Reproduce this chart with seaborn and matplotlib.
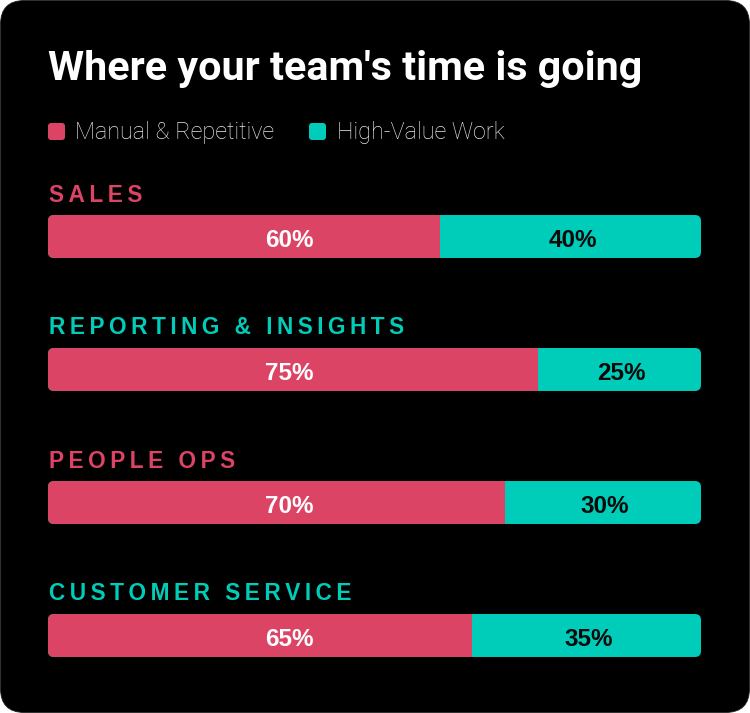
import numpy as np
import pandas as pd
import matplotlib
matplotlib.use("Agg")
import matplotlib.pyplot as plt
import seaborn as sns
from matplotlib.patches import FancyBboxPatch
from matplotlib.transforms import IdentityTransform
from matplotlib import font_manager as fm

# ---------------- data ----------------
categories = ["SALES", "REPORTING & INSIGHTS", "PEOPLE OPS", "CUSTOMER SERVICE"]
manual = [60, 75, 70, 65]
high_value = [40, 25, 30, 35]
series_names = ["Manual & Repetitive", "High-Value Work"]
title = "Where your team's time is going"

# ---------------- style ----------------
PINK = "#DC4466"
TEAL = "#00CDB9"
label_colors = [PINK, TEAL, PINK, TEAL]
W, H, DPI = 750, 713, 100
MANUAL_LABEL_X = 37.0   # manual-segment labels sit at a fixed x in the reference

sns.set_theme(style="white")
plt.rcParams["font.family"] = ["Liberation Sans", "DejaVu Sans"]


def _w(v):
    if isinstance(v, str):
        return fm.weight_dict.get(v, 400)
    return v


def has_font(name, min_weight=None, max_weight=None):
    for f in fm.fontManager.ttflist:
        if f.name != name:
            continue
        w = _w(f.weight)
        if min_weight is not None and w < min_weight:
            continue
        if max_weight is not None and w > max_weight:
            continue
        return True
    return False


title_family = "Roboto" if has_font("Roboto", min_weight=700) else "Liberation Sans"
if has_font("Roboto", max_weight=300):
    legend_family = "Roboto"
elif has_font("Lato", max_weight=300):
    legend_family = "Lato"
else:
    legend_family = "Liberation Sans"

fig = plt.figure(figsize=(W / DPI, H / DPI), dpi=DPI)
fig.patch.set_facecolor("white")

# black rounded card
card = FancyBboxPatch((0.5, 0.5), W - 1, H - 1,
                      boxstyle="round,pad=0,rounding_size=24",
                      transform=IdentityTransform(), fc="black", ec="#222222",
                      lw=0.6, zorder=0)
fig.add_artist(card)

# ---------------- bars ----------------
ax = fig.add_axes([48 / W, 11 / H, 653 / W, 532 / H])
ax.set_facecolor("none")

df = pd.DataFrame({"category": categories, "manual": manual, "high": high_value})
df["total"] = df["manual"] + df["high"]

BAR_W = 0.323
sns.barplot(data=df, x="total", y="category", color=TEAL, saturation=1,
            width=BAR_W, errorbar=None, linewidth=0, orient="h", ax=ax)
sns.barplot(data=df, x="manual", y="category", color=PINK, saturation=1,
            width=BAR_W, errorbar=None, linewidth=0, orient="h", ax=ax)

ax.set_xlim(0, df["total"].max())
ax.set_ylim(len(categories) - 0.5, -0.5)
ax.axis("off")

# rounded ends via clip paths (display coords)
clips = []
for i, tot in enumerate(df["total"]):
    (xa, ya) = ax.transData.transform((0, i - BAR_W / 2))
    (xb, yb) = ax.transData.transform((tot, i + BAR_W / 2))
    x0, x1 = min(xa, xb), max(xa, xb)
    y0, y1 = min(ya, yb), max(ya, yb)
    clips.append(FancyBboxPatch((x0, y0), x1 - x0, y1 - y0,
                                boxstyle="round,pad=0,rounding_size=6",
                                transform=IdentityTransform()))
for p in ax.patches:
    idx = int(round(p.get_y() + p.get_height() / 2))
    if 0 <= idx < len(clips):
        p.set_clip_path(clips[idx])

# percentage labels
for i, (m, h) in enumerate(zip(df["manual"], df["high"])):
    ax.annotate(f"{m}%", xy=(MANUAL_LABEL_X, i), xytext=(0, -7.3),
                textcoords="offset points", ha="center", va="baseline",
                color="white", fontsize=17.5, fontweight="bold")
    ax.annotate(f"{h}%", xy=(m + h / 2, i), xytext=(1.5, -7.3),
                textcoords="offset points", ha="center", va="baseline",
                color="#0a0a0a", fontsize=17.5, fontweight="bold")

# category labels (letter-spaced)
TS = "\u2009"
for i, cat in enumerate(categories):
    spaced = (TS + " " + TS).join(TS.join(word) for word in cat.split(" "))
    ax.annotate(spaced, xy=(0, i), xytext=(0.4, 25.2), textcoords="offset points",
                ha="left", va="baseline", color=label_colors[i], fontsize=16.3,
                fontweight="bold", family=["Liberation Sans", "DejaVu Sans"],
                annotation_clip=False)

# ---------------- title ----------------
t = fig.text(48 / W, (H - 80) / H, title, color="white", fontweight="bold",
             fontsize=33, family=[title_family, "DejaVu Sans"], va="baseline",
             ha="left")
renderer = fig.canvas.get_renderer()
tw = t.get_window_extent(renderer).width
t.set_fontsize(33 * 594 / tw)

# ---------------- legend ----------------
leg_colors = [PINK, TEAL]
sq_x = [48, 309]
tx_x = [75, 337]
for name, c, sx, tx in zip(series_names, leg_colors, sq_x, tx_x):
    fig.add_artist(FancyBboxPatch((sx, H - 140), 17, 17,
                                  boxstyle="round,pad=0,rounding_size=3",
                                  transform=IdentityTransform(), fc=c, ec="none"))
    fig.text(tx / W, (H - 139) / H, name, color="#e8e8e8", fontsize=16.8,
             fontweight="light", family=[legend_family, "DejaVu Sans"],
             va="baseline", ha="left")

fig.savefig("out.png", dpi=DPI, facecolor="white")
